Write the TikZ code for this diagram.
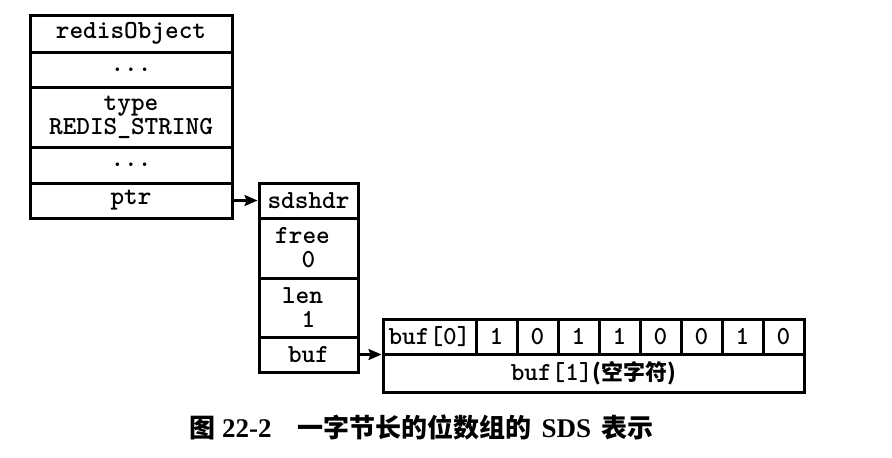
\documentclass[tikz,border=0pt]{standalone}
\usepackage{fontspec}
\newfontfamily\cjk{Noto Sans CJK SC}
\newfontfamily\latb{Liberation Serif}
\usetikzlibrary{arrows.meta}
\newcommand\capzh{\cjk\bfseries\fontsize{26}{26}\selectfont}
\newcommand\caplat{\latb\bfseries\fontsize{27}{27}\selectfont}
\begin{document}
\begin{tikzpicture}[x=1pt,y=-1pt,
  cell/.style={draw, line width=3pt, inner sep=0pt, align=center,
    font=\fontsize{26}{24}\selectfont\ttfamily\bfseries},
  ptrarrow/.style={line width=2.2pt, -{Stealth[length=13pt,width=11pt,inset=2pt]}}
]
\useasboundingbox (0,0) rectangle (892,458);
% redisObject
\node[cell, minimum width=202pt, minimum height=37pt] (ro1) at (131,33.5) {redisObject};
\node[cell, minimum width=202pt, minimum height=35pt] (ro2) at (131,69.5) {...};
\node[cell, minimum width=202pt, minimum height=60pt] (ro3) at (131,117) {type\\REDIS\_STRING};
\node[cell, minimum width=202pt, minimum height=36pt] (ro4) at (131,165) {...};
\node[cell, minimum width=202pt, minimum height=35pt] (ro5) at (131,200.5) {ptr};
% sdshdr
\node[cell, minimum width=99pt, minimum height=35pt] (s1) at (308.5,200.5) {sdshdr};
\node[cell, minimum width=99pt, minimum height=60pt] (s2) at (308.5,248) {\hbox{free\kern12pt}\\0};
\node[cell, minimum width=99pt, minimum height=59pt] (s3) at (308.5,307.5) {\hbox{len\kern12pt}\\1};
\node[cell, minimum width=99pt, minimum height=35pt] (s4) at (308.5,354.5) {buf};
% buf array
\node[cell, minimum width=93pt, minimum height=35pt] (b0) at (429.5,336.5) {buf[0]};
\foreach \v [count=\i] in {1,0,1,1,0,0,1,0}
  \node[cell, minimum width=41pt, minimum height=35pt] (bit\i) at ({476+41*(\i-0.5)},336.5) {\v};
\node[cell, minimum width=421pt, minimum height=38pt] (bb) at (593.5,373) {buf[1]{\cjk\bfseries\fontsize{22}{22}\selectfont (空字符)}};
% arrows
\draw[ptrarrow] (ro5.east) -- (s1.west);
\draw[ptrarrow] (s4.east) -- (s4.east -| bb.west);
% caption
\node[anchor=base west, inner sep=0pt] (cap) at (189,437)
  {{\capzh 图}\hspace{7pt}{\caplat 22-2}\hspace{26pt}{\capzh 一字节长的位数组的}\hspace{10pt}{\caplat SDS}\hspace{10pt}{\capzh 表示}};
\end{tikzpicture}
\end{document}
